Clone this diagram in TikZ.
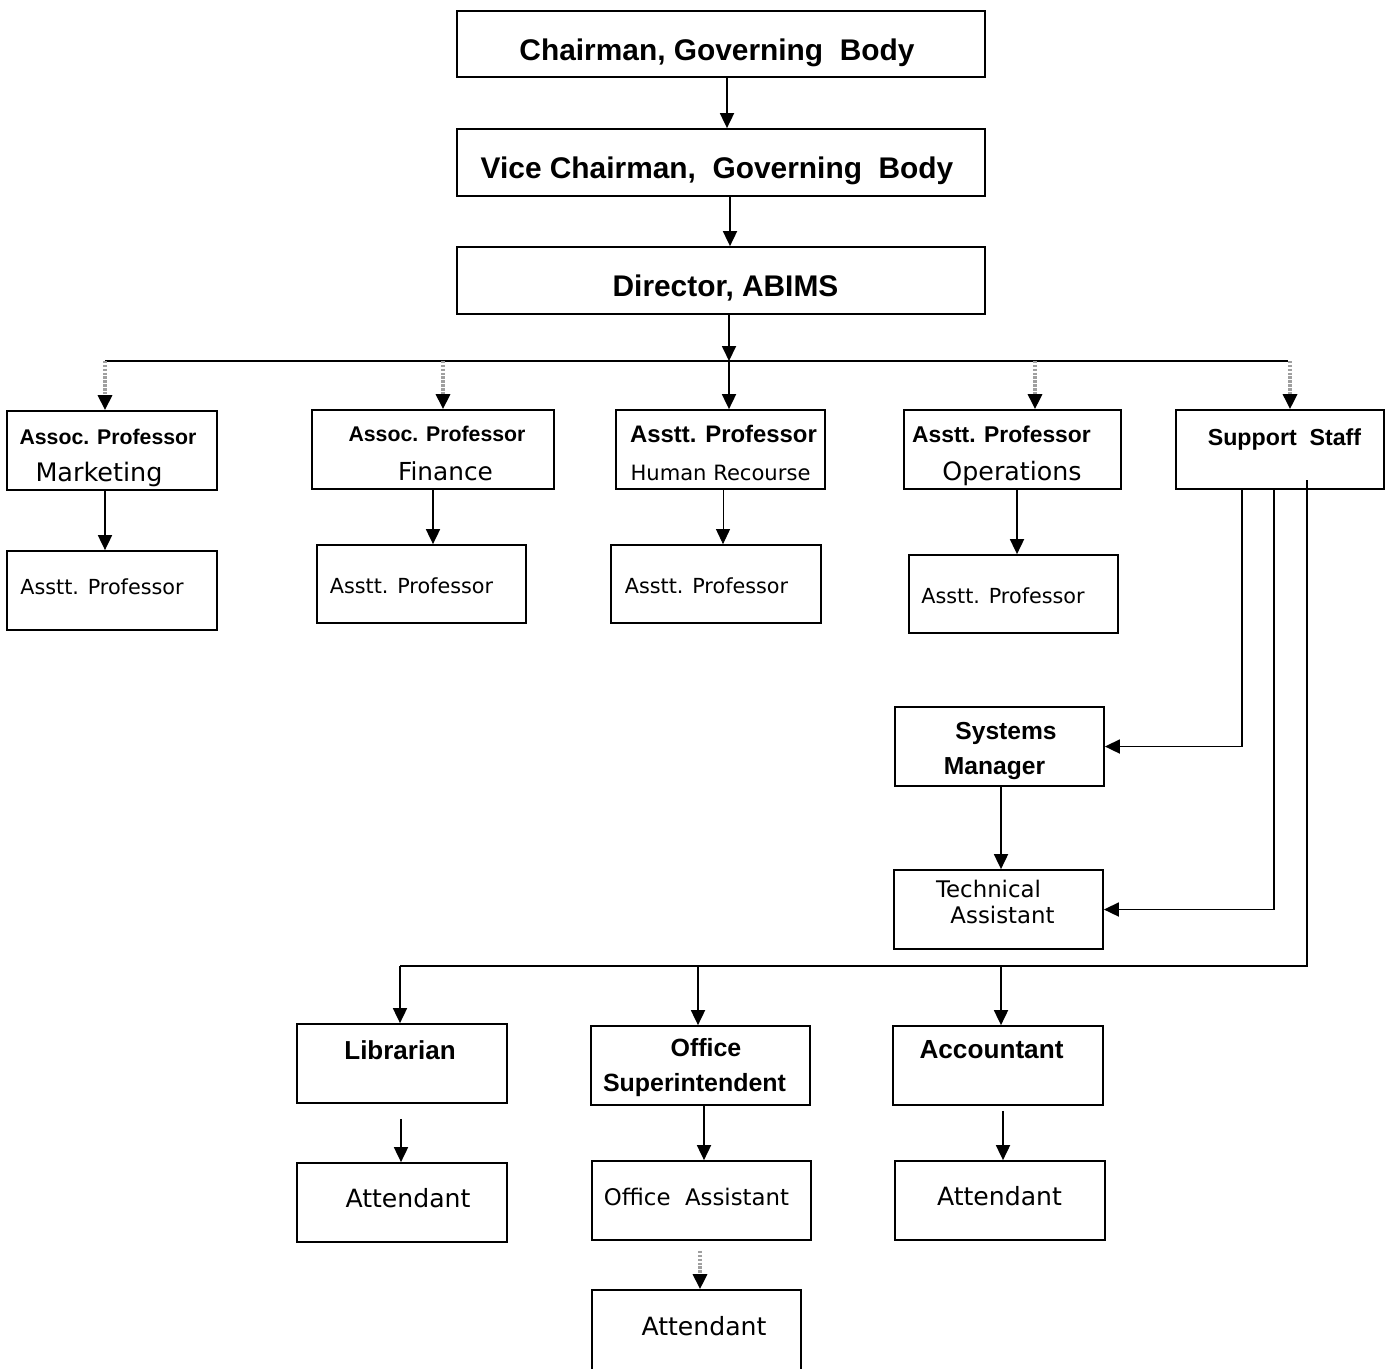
\documentclass[tikz,border=0pt]{standalone}
\usepackage{fontspec}
\newfontfamily\headfont{Liberation Sans}
\newfontfamily\bodyfont{DejaVu Sans}
\usetikzlibrary{arrows.meta}

\tikzset{
  box/.style 2 args={draw, line width=1pt, inner sep=0pt, minimum width=#1*0.2mm, minimum height=#2*0.2mm},
  arr/.style={line width=1pt, -{Triangle[length=3mm,width=2.8mm]}},
  thinarr/.style={line width=0.5pt, -{Triangle[length=3mm,width=2.8mm]}},
  greyarr/.style={draw=gray!75, line width=1.8pt, dash pattern=on 1.4pt off 0.8pt, -{Triangle[length=3mm,width=2.8mm,color=black]}},
  hd/.style={anchor=base, font=\headfont\bfseries\fontsize{#1}{#1}\selectfont},
  hd/.default=14,
  rg/.style={anchor=base, font=\bodyfont\fontsize{#1}{#1}\selectfont},
  rg/.default=14
}

\begin{document}
\begin{tikzpicture}[x=0.2mm, y=-0.2mm]

    \useasboundingbox (0,0) rectangle (1385,1368);

    % top of the chart
    \node[box={528}{66}] (chair) at (721,44) {};
    \node[hd=17] (t-chair) at (717,60) {Chairman, Governing\ \ Body};
    \node[box={528}{67}] (vice) at (721,162.5) {};
    \node[hd=17] (t-vice) at (717,178) {Vice Chairman,\ \ Governing\ \ Body};
    \node[box={528}{67}] (dir) at (721,280.5) {};
    \node[hd=17] (t-dir) at (725.5,296) {Director, ABIMS};

    \draw[arr] (chair.south -| 727,0) -- (vice.north -| 727,0);
    \draw[arr] (vice.south -| 730,0) -- (dir.north -| 730,0);

    % faculty row
    \node[box={210}{79}] (mkt) at (112,450.5) {};
    \node[hd=12.1] (t-mkt1) at (108,444) {Assoc. Professor};
    \node[rg=14.5] (t-mkt2) at (99,481) {Marketing};
    \node[box={242}{79}] (fin) at (433,449.5) {};
    \node[hd=12.1] (t-fin1) at (437,441) {Assoc. Professor};
    \node[rg=14.1] (t-fin2) at (445.5,480) {Finance};
    \node[box={209}{79}] (hr) at (720.5,449.5) {};
    \node[hd=13.6] (t-hr1) at (723.5,442) {Asstt. Professor};
    \node[rg=12] (t-hr2) at (720.5,480) {Human Recourse};
    \node[box={217}{79}] (ops) at (1012.5,449.5) {};
    \node[hd=13] (t-ops1) at (1001.5,442) {Asstt. Professor};
    \node[rg=14.4] (t-ops2) at (1012,480) {Operations};
    \node[box={208}{79}] (sup) at (1280,449.5) {};
    \node[hd=13.2] (t-sup) at (1284.5,445) {Support\ \ Staff};

    \coordinate (hub) at (729,361);
    \coordinate (b1) at (105,361);
    \coordinate (b2) at (443,361);
    \coordinate (b4) at (1035,361);
    \coordinate (b5) at (1290,361);
    \draw[line width=1pt] (b1) -- (1288,361);
    \draw[arr] (dir.south -| hub) -- (hub);
    \draw[arr] (hub) -- (hub |- hr.north);
    \draw[greyarr] (b1) -- (b1 |- mkt.north);
    \draw[greyarr] (b2) -- (b2 |- fin.north);
    \draw[greyarr] (b4) -- (b4 |- ops.north);
    \draw[greyarr] (b5) -- (b5 |- sup.north);

    % assistant professors
    \node[box={210}{79}] (mktA) at (112,590.5) {};
    \node[rg=11.8] (t-mktA) at (102,594) {Asstt. Professor};
    \node[box={209}{78}] (finA) at (421.5,584) {};
    \node[rg=11.8] (t-finA) at (411.5,593) {Asstt. Professor};
    \node[box={210}{78}] (hrA) at (716,584) {};
    \node[rg=11.8] (t-hrA) at (706.5,593) {Asstt. Professor};
    \node[box={209}{78}] (opsA) at (1013.5,594) {};
    \node[rg=11.8] (t-opsA) at (1003,603) {Asstt. Professor};

    \draw[arr] (b1 |- mkt.south) -- (b1 |- mktA.north);
    \draw[arr] (fin.south) -- (fin.south |- finA.north);
    \draw[thinarr] (723,0 |- hr.south) -- (723,0 |- hrA.north);
    \draw[arr] (1017,0 |- ops.south) -- (1017,0 |- opsA.north);

    % support staff
    \node[box={209}{79}] (sys) at (999.5,746.5) {};
    \node[hd=14] (t-sys1) at (1006,739) {Systems};
    \node[hd=14] (t-sys2) at (994.5,774) {Manager};
    \node[box={209}{79}] (tech) at (998.5,909.5) {};
    \node[rg=13] (t-tech1) at (988.5,897) {Technical};
    \node[rg=13] (t-tech2) at (1002.5,923) {Assistant};

    \coordinate (s1) at (1242,489);
    \coordinate (s2) at (1274,489);
    \coordinate (s3) at (1307,480);
    \coordinate (lb) at (400,966);
    \draw[arr] (s1) |- (sys.east);
    \draw[arr] (s2) |- (tech.east);
    \draw[arr] (1001,0 |- sys.south) -- (1001,0 |- tech.north);
    \draw[line width=1pt] (s3) |- (lb);

    \node[box={210}{79}] (lib) at (402,1063.5) {};
    \node[hd=14.8] (t-lib) at (400,1059) {Librarian};
    \node[box={219}{79}] (osup) at (700.5,1065.5) {};
    \node[hd=14.2] (t-osup1) at (706,1056) {Office};
    \node[hd=14.2] (t-osup2) at (694.5,1091) {Superintendent};
    \node[box={210}{79}] (acc) at (998,1065.5) {};
    \node[hd=14.9] (t-acc) at (991.5,1058) {Accountant};

    \draw[arr] (lb) -- (lb |- lib.north);
    \draw[arr] (698,0 |- lb) -- (698,0 |- osup.north);
    \draw[arr] (1001,0 |- lb) -- (1001,0 |- acc.north);

    % bottom row
    \node[box={210}{79}] (libA) at (402,1202.5) {};
    \node[rg=14.3] (t-libA) at (408,1207) {Attendant};
    \node[box={219}{79}] (oasst) at (701.5,1200.5) {};
    \node[rg=13] (t-oasst) at (696.5,1205) {Office\ \ Assistant};
    \node[box={210}{79}] (accA) at (1000,1200.5) {};
    \node[rg=14.3] (t-accA) at (999.5,1205) {Attendant};
    \node[box={209}{85}] (oatt) at (696.5,1332.5) {};
    \node[rg=14.3] (t-oatt) at (704,1335) {Attendant};

    \draw[arr, shorten <=3mm] (401,0 |- lib.south) -- (401,0 |- libA.north);
    \draw[arr] (704,0 |- osup.south) -- (704,0 |- oasst.north);
    \draw[greyarr, shorten <=2mm] (700,0 |- oasst.south) -- (700,0 |- oatt.north);
    \draw[arr, shorten <=1mm] (1003,0 |- acc.south) -- (1003,0 |- accA.north);

\end{tikzpicture}
\end{document}
